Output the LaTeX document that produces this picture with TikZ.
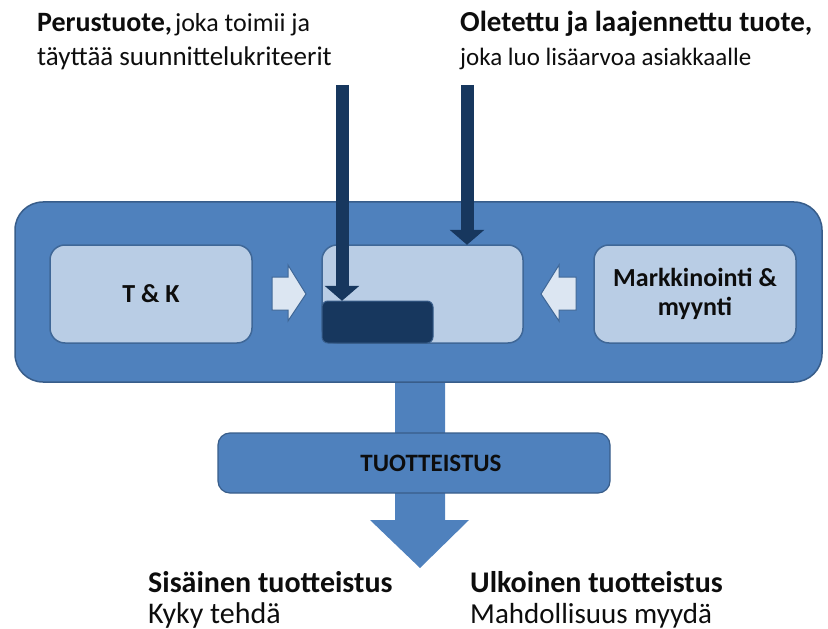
\documentclass[tikz,border=0pt]{standalone}
\usepackage{fontspec}
\setmainfont{Carlito}
\usetikzlibrary{arrows.meta}
\definecolor{bigblue}{HTML}{4F81BD}
\definecolor{bigborder}{HTML}{385D8A}
\definecolor{lightbox}{HTML}{B9CDE5}
\definecolor{darknavy}{HTML}{17375E}
\definecolor{paleblue}{HTML}{DCE6F2}
\definecolor{txt}{HTML}{0D0D0D}
\tikzset{
  innerbox/.style={draw=bigblue!80!black, line width=1.5bp, fill=lightbox, rounded corners=15bp},
  bigbox/.style={draw=bigborder, line width=1.5bp, fill=bigblue, rounded corners=28bp},
  darkbox/.style={draw=bigborder, line width=1bp, fill=darknavy, rounded corners=6bp},
  navyarrow/.style={draw=darknavy, line width=13bp, -{Triangle[width=34bp,length=15bp]}},
  whitearrow/.style={draw=bigblue!80!black, line width=1bp, fill=paleblue},
  boldlbl/.style={font=\bfseries\fontsize{26bp}{29bp}\selectfont, text=txt, align=center},
  toplbl/.style={anchor=base west, inner sep=0pt, text=txt},
}
\begin{document}
\begin{tikzpicture}[x=1bp,y=-1bp]
\useasboundingbox (0,0) rectangle (828,629);
% down arrow (under big box)
\fill[bigblue] (395,370) -- (395,520) -- (370,520) -- (420,568) -- (469,520) -- (445,520) -- (445,370) -- cycle;
% big box
\draw[bigbox] (15,202) rectangle (822,382);
\node[inner sep=0pt, minimum width=807bp, minimum height=180bp] (big) at (418.5,292) {};
% inner boxes
\draw[innerbox] (50,245) rectangle (252,343);
\node[boldlbl] (tk) at (151,294) {T \& K};
\draw[innerbox] (322,245) rectangle (523,343);
\node[inner sep=0pt, minimum width=201bp, minimum height=98bp] (mid) at (422.5,294) {};
\draw[innerbox] (594,245) rectangle (796,343);
\node[boldlbl] (mm) at (695,294) {Markkinointi \&\\myynti};
% dark rect
\draw[darkbox] (322,301) rectangle (433,343);
\node[inner sep=0pt, minimum width=111bp, minimum height=42bp] (dark) at (377.5,322) {};
% white block arrows
\draw[whitearrow] (272,277) -- (288,277) -- (288,265) -- (306,294) -- (288,321) -- (288,310) -- (272,310) -- cycle;
\draw[whitearrow] (576,277) -- (559,277) -- (559,265) -- (541,294) -- (559,321) -- (559,310) -- (576,310) -- cycle;
% navy arrows
\coordinate (a1) at (342,85);
\coordinate (a2) at (467,85);
\draw[navyarrow] (a1) -- (dark.north -| a1);
\draw[navyarrow] (a2) -- (mid.north -| a2);
% TUOTTEISTUS
\draw[draw=bigborder, line width=1.2bp, fill=bigblue, rounded corners=12bp] (218,433) rectangle (610,493);
\node[font=\bfseries\fontsize{25bp}{28bp}\selectfont, text=txt] (tuo) at (431,463) {TUOTTEISTUS};
% top texts
\node[toplbl] (t1) at (37,32) {{\bfseries\fontsize{28bp}{32bp}\selectfont Perustuote,}\fontsize{26bp}{29bp}\selectfont\hspace{3bp}joka toimii ja};
\node[toplbl, font=\fontsize{27bp}{30bp}\selectfont] (t2) at (37,66) {täyttää suunnittelukriteerit};
\node[toplbl, font=\bfseries\fontsize{29bp}{32bp}\selectfont] (t3) at (460,32) {Oletettu ja laajennettu tuote,};
\node[toplbl, font=\fontsize{25bp}{28bp}\selectfont] (t4) at (460,66) {joka luo lisäarvoa asiakkaalle};
% bottom texts
\node[toplbl, font=\bfseries\fontsize{30bp}{34bp}\selectfont] (b1) at (148,592) {Sisäinen tuotteistus};
\node[toplbl, font=\fontsize{30bp}{34bp}\selectfont] (b2) at (148,623) {Kyky tehdä};
\node[toplbl, font=\bfseries\fontsize{30bp}{34bp}\selectfont] (b3) at (470,592) {Ulkoinen tuotteistus};
\node[toplbl, font=\fontsize{29bp}{32bp}\selectfont] (b4) at (470,623) {Mahdollisuus myydä};
\end{tikzpicture}
\end{document}
